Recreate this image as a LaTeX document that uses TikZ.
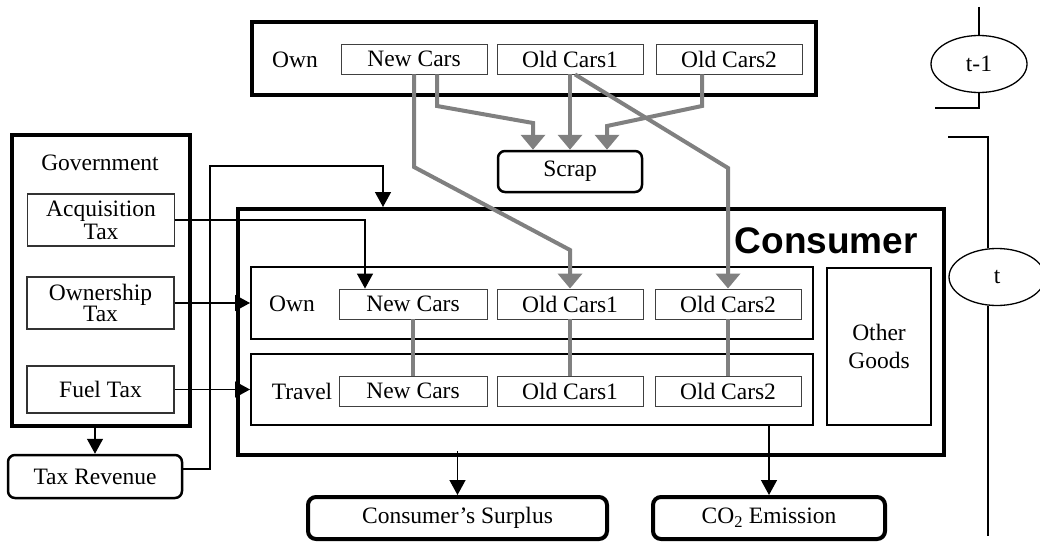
\documentclass[tikz,border=0pt]{standalone}
\usepackage{fontspec}
\setmainfont{Liberation Serif}
\newfontfamily\consfont{Liberation Sans}
\usetikzlibrary{arrows.meta,shapes.geometric}
\definecolor{graylin}{RGB}{128,128,128}
\begin{document}
\begin{tikzpicture}[x=1pt,y=-1pt,
  txt/.style={font=\fontsize{23.5}{23}\selectfont, inner sep=0pt, align=center},
  carbox/.style={txt, draw=black!75, line width=0.9pt, minimum height=30pt, minimum width=146pt},
  thickbox/.style={draw, line width=4pt, inner sep=0pt},
  inbox/.style={draw, line width=2pt, inner sep=0pt},
  taxbox/.style={txt, draw=black!80, line width=1.1pt, minimum width=147pt},
  rbox/.style={txt, draw, line width=2.5pt, rounded corners=7pt},
  rthick/.style={txt, draw, line width=4pt, rounded corners=8pt},
  ell/.style={txt, draw, ellipse, line width=1.3pt, minimum width=96pt, minimum height=57pt},
  blk/.style={line width=1.4pt, -{Triangle[width=16pt,length=15pt]}},
  bln/.style={line width=1.4pt},
  gry/.style={draw=graylin, line width=4pt, -{Triangle[width=24pt,length=15pt]}},
  grl/.style={draw=graylin, line width=4pt}
]
\useasboundingbox (0,0) rectangle (1040,543);

% ---------- top (t-1) ----------
\node[thickbox, minimum width=564pt, minimum height=73pt] (topbox) at (534,58.5) {};
\node[txt] (own0) at (295,60) {Own};
\node[carbox] (nc0) at (414,59) {New Cars};
\node[carbox] (oc10) at (570,59) {Old Cars1};
\node[carbox] (oc20) at (729,59) {Old Cars2};
\node[rbox, minimum width=144pt, minimum height=41pt] (scrap) at (570,171.5) {Scrap};

% ---------- government ----------
\node[thickbox, minimum width=178pt, minimum height=291pt] (gov) at (101,280.5) {};
\node[txt] (govt) at (100,163) {Government};
\node[taxbox, minimum height=52pt] (acq) at (101,220) {Acquisition\\Tax};
\node[taxbox, minimum height=52pt, font=\fontsize{23.5}{20}\selectfont] (owntax) at (100.5,303) {Ownership\\Tax};
\node[taxbox, minimum height=47pt] (fuel) at (100.5,389.5) {Fuel Tax};
\node[rbox, minimum width=174pt, minimum height=43pt] (taxrev) at (95,476.5) {Tax Revenue};

% ---------- consumer ----------
\node[thickbox, minimum width=706pt, minimum height=246pt] (cons) at (591,332) {};
\node[anchor=base east, inner sep=0pt, font=\consfont\bfseries\fontsize{37}{37}\selectfont] (constxt) at (918,253) {Consumer};
\node[inbox, minimum width=562pt, minimum height=72pt] (own) at (532,303) {};
\node[inbox, minimum width=562pt, minimum height=71pt] (travel) at (532,389.5) {};
\node[inbox, txt, minimum width=104pt, minimum height=157pt, font=\fontsize{23.5}{28}\selectfont] (other) at (879,346.5) {Other\\Goods};
\node[txt] (ownl) at (292,304) {Own};
\node[txt] (travl) at (302,391) {Travel};
\node[carbox, minimum width=148pt] (nc1) at (413,304) {New Cars};
\node[carbox] (oc11) at (570,304) {Old Cars1};
\node[carbox] (oc21) at (728,304) {Old Cars2};
\node[carbox, minimum width=148pt] (nc2) at (413,391) {New Cars};
\node[carbox] (oc12) at (570,391) {Old Cars1};
\node[carbox] (oc22) at (728,391) {Old Cars2};

% ---------- outputs ----------
\node[rthick, minimum width=299pt, minimum height=42pt] (surplus) at (457.5,518) {Consumer’s Surplus};
\node[rthick, minimum width=232pt, minimum height=42pt] (co2) at (769,518) {CO\textsubscript{2} Emission};

% ---------- periods ----------
\node[ell] (tm1) at (979,64) {t-1};
\node[ell] (tt) at (997,277) {t};
\coordinate (b1top) at (979,7);
\coordinate (b1end) at (935,108);
\coordinate (b2start) at (948,137);
\coordinate (b2x) at (988,137);
\coordinate (b2end) at (988,536);
\draw[bln] (b1top) -- (tm1.north);
\draw[bln] (tm1.south) |- (b1end);
\draw[bln] (b2start) -- (b2x) -- (tt.north -| b2x);
\draw[bln] (tt.south -| b2x) -- (b2end);

% ---------- black connectors ----------
\coordinate (trx) at (210,166);
\coordinate (tcx) at (383,166);
\draw[blk] (taxrev.north |- gov.south) -- (taxrev.north);
\draw[blk] ([yshift=7.5pt]taxrev.east) -| (trx) -- (tcx) -- (tcx |- cons.north);
\draw[blk] (acq.east) -| ([xshift=-48pt]nc1.north);
\draw[blk] (owntax.east) -- (owntax.east -| own.west);
\draw[blk] (fuel.east) -- (fuel.east -| travel.west);
\coordinate (sfrom) at (457.5,451);
\draw[blk] (sfrom) -- (surplus.north);
\draw[blk] (co2.north |- travel.south) -- (co2.north);

% ---------- gray connectors ----------
\draw[grl] (nc1.south) -- (nc2.north);
\draw[grl] (oc11.south) -- (oc12.north);
\draw[grl] (oc21.south) -- (oc22.north);
\draw[gry] (nc0.south) -- (414,167) -- (570,250) -- (oc11.north);
\draw[gry] ([xshift=5pt]oc10.south) -- (728,168) -- (oc21.north);
\draw[gry] ([xshift=23pt]nc0.south) -- (437,106) -- (533,123) -- ([xshift=-37pt]scrap.north);
\draw[gry] (oc10.south) -- (scrap.north);
\draw[gry] ([xshift=-27pt]oc20.south) -- (702,106) -- (607,126) -- ([xshift=37pt]scrap.north);
\end{tikzpicture}
\end{document}
